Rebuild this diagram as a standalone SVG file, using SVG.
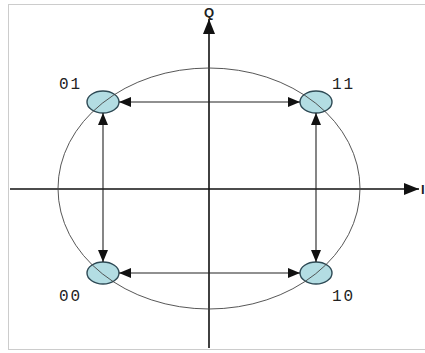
<svg xmlns="http://www.w3.org/2000/svg" width="425" height="353" viewBox="0 0 425 353">
<style>
.ax{stroke:#111;stroke-width:1.6;fill:none}
.con{stroke:#222;stroke-width:1.1;fill:none}
.node{fill:#b3dde3;stroke:#2e4a55;stroke-width:1.4}
.lbl{font-family:"Liberation Mono","DejaVu Sans Mono",monospace;font-size:16px;fill:#222;letter-spacing:2px}
.axl{font-family:"Liberation Sans",Arial,sans-serif;font-size:13px;font-weight:bold;fill:#222}
</style>
<defs>
<marker id="ah" viewBox="0 0 12 10" refX="12" refY="5" markerWidth="12" markerHeight="10" markerUnits="userSpaceOnUse" orient="auto-start-reverse">
<path d="M0,0 L12,5 L0,10 Z" fill="#111"/>
</marker>
<marker id="axh" viewBox="0 0 15 12" refX="15" refY="6" markerWidth="15" markerHeight="12" markerUnits="userSpaceOnUse" orient="auto">
<path d="M0,0 L15,6 L0,12 Z" fill="#111"/>
</marker>
</defs>
<rect x="0" y="0" width="425" height="353" fill="#fff"/>
<rect x="8.5" y="4.5" width="430" height="345" fill="none" stroke="#ccc" stroke-width="1"/>
<g id="axes">
<line class="ax" x1="209" y1="348" x2="209" y2="19" marker-end="url(#axh)"/>
<line class="ax" x1="10" y1="189" x2="419" y2="189" marker-end="url(#axh)"/>
<text class="axl" x="209" y="17" text-anchor="middle">Q</text>
<text class="axl" x="421" y="194">I</text>
</g>
<g id="n01"><ellipse class="node" cx="103" cy="102" rx="16" ry="11"/><text class="lbl" x="59" y="89">01</text></g>
<g id="n11"><ellipse class="node" cx="316" cy="102" rx="16" ry="11"/><text class="lbl" x="332" y="89">11</text></g>
<g id="n00"><ellipse class="node" cx="103" cy="273" rx="16" ry="11"/><text class="lbl" x="59" y="301">00</text></g>
<g id="n10"><ellipse class="node" cx="316" cy="273" rx="16" ry="11"/><text class="lbl" x="332" y="301">10</text></g>
<ellipse cx="209" cy="188.5" rx="151" ry="120.5" fill="none" stroke="#444" stroke-width="0.9"/>
<g id="connectors">
<line class="con" x1="119" y1="102" x2="300" y2="102" marker-start="url(#ah)" marker-end="url(#ah)"/>
<line class="con" x1="119" y1="273" x2="300" y2="273" marker-start="url(#ah)" marker-end="url(#ah)"/>
<line class="con" x1="103" y1="113" x2="103" y2="262" marker-start="url(#ah)" marker-end="url(#ah)"/>
<line class="con" x1="316" y1="113" x2="316" y2="262" marker-start="url(#ah)" marker-end="url(#ah)"/>
</g>
</svg>
